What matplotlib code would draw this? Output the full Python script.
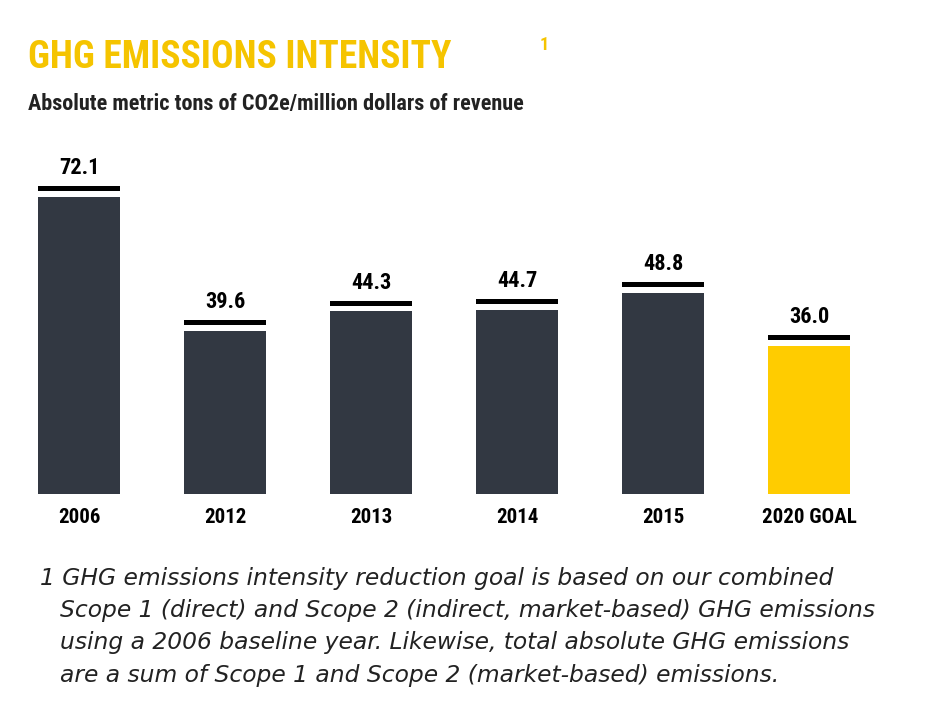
import matplotlib
matplotlib.use('Agg')
import matplotlib.pyplot as plt
import numpy as np

years = ['2006', '2012', '2013', '2014', '2015', '2020 GOAL']
values = [72.1, 39.6, 44.3, 44.7, 48.8, 36.0]
colors = ['#323842', '#323842', '#323842', '#323842', '#323842', '#FFCC00']
narrow = ['Roboto Condensed', 'Liberation Sans Narrow', 'Roboto', 'DejaVu Sans']

fig = plt.figure(figsize=(9.41, 7.15), dpi=100)
ax = fig.add_axes([6/941, 1-494/715, 876/941, 330/715])
x = np.arange(len(years))
ax.bar(x, values, width=0.56, color=colors)
# black cap line above each bar
ax.bar(x, 1.2, width=0.56, bottom=np.array(values)+1.3, color='black')
for i, v in enumerate(values):
    ax.text(i, v+4.2, '%.1f' % v, ha='center', va='bottom', fontsize=16,
            fontweight='bold', family=narrow)
ax.set_xlim(-0.5, 5.5)
ax.set_ylim(0, 80)
ax.set_yticks([])
ax.set_xticks(x)
ax.set_xticklabels(years, fontsize=15, fontweight='bold', family=narrow)
ax.tick_params(axis='x', length=0, pad=10)
for s in ax.spines.values():
    s.set_visible(False)

fig.text(28/941, 1-68/715, 'GHG EMISSIONS INTENSITY', fontsize=27, fontweight='bold',
         color='#F5C400', family=narrow)
fig.text(540/941, 1-50/715, '1', fontsize=13, fontweight='bold',
         color='#F5C400', family=narrow)
fig.text(28/941, 1-110/715, 'Absolute metric tons of CO2e/million dollars of revenue',
         fontsize=16, fontweight='bold', color='#222222', family=narrow)
fig.text(40/941, 1-585/715, '1 GHG emissions intensity reduction goal is based on our combined',
         fontsize=16.8, style='italic', color='#222222')
notes = ['Scope 1 (direct) and Scope 2 (indirect, market-based) GHG emissions',
         'using a 2006 baseline year. Likewise, total absolute GHG emissions',
         'are a sum of Scope 1 and Scope 2 (market-based) emissions.']
for j, line in enumerate(notes):
    fig.text(60/941, 1-(617+32.5*j)/715, line, fontsize=16.8, style='italic', color='#222222')

plt.savefig('out.png')
